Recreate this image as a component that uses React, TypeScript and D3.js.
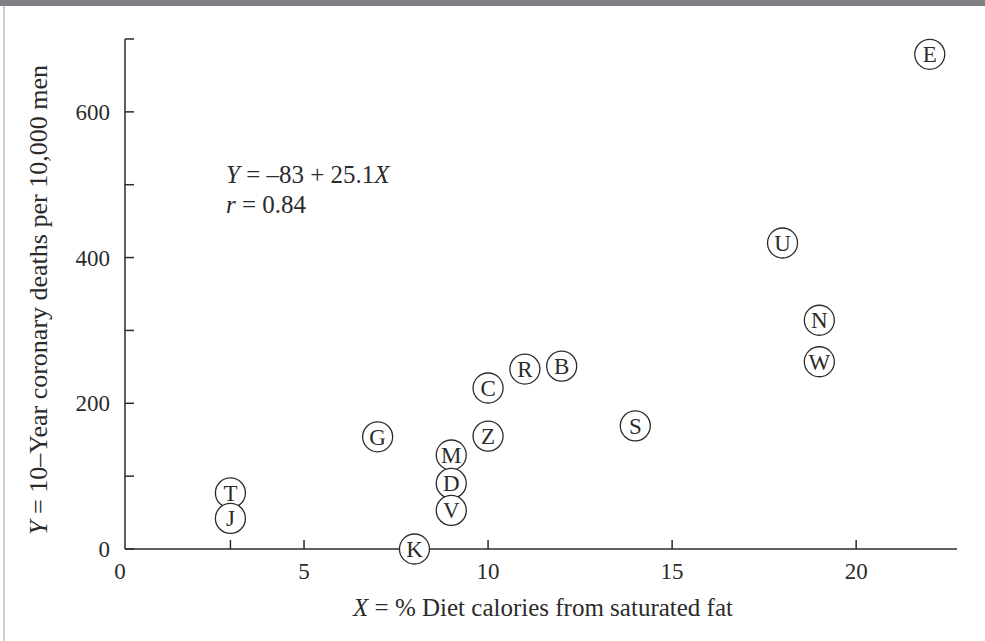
import React from "react";
import * as d3 from "d3";

const letters = ["E", "U", "N", "W", "S", "B", "R", "C", "Z", "G", "M", "D", "V", "T", "J", "K"];
const fatPct = [22, 18, 19, 19, 14, 12, 11, 10, 10, 7, 9, 9, 9, 3, 3, 8];
const deaths = [679, 420, 314, 257, 169, 251, 247, 221, 155, 154, 129, 90, 53, 77, 42, 0];

const xTickValues = [3, 5, 10, 15, 20];
const xTickLabels = ["0", "5", "10", "15", "20"];
const xLabelValues = [0, 5, 10, 15, 20];
const yTickValues = [0, 100, 200, 300, 400, 500, 600, 700];
const yLabelValues = [0, 200, 400, 600];

const W = 985;
const H = 641;
const FONT = "'Liberation Serif', 'Times New Roman', serif";
const INK = "#2b2b2b";

export default function App() {
  const x = d3.scaleLinear().domain([0, 22.74]).range([120, 957]);
  const y = d3.scaleLinear().domain([0, 700]).range([549, 39]);
  const axisX = x(0) + 5;
  const x0 = y(0);

  return (
    <svg
      width={W}
      height={H}
      style={{ position: "absolute", left: 0, top: 0, background: "#fff" }}
      fontFamily={FONT}
    >
      <rect x={0} y={0} width={W} height={6} fill="#7f8083" />
      <line x1={4} y1={6} x2={4} y2={H} stroke="#cfcfcf" strokeWidth={2} />

      {/* axes */}
      <line x1={axisX} y1={y(700)} x2={axisX} y2={x0} stroke={INK} strokeWidth={1.5} />
      <line x1={axisX} y1={x0} x2={x(22.74)} y2={x0} stroke={INK} strokeWidth={1.5} />

      {yTickValues.map((v) => (
        <line key={"yt" + v} x1={axisX} x2={axisX + 9} y1={y(v)} y2={y(v)} stroke={INK} strokeWidth={1.5} />
      ))}
      {yLabelValues.map((v) => (
        <text key={"yl" + v} x={110} y={y(v)} dy="0.35em" textAnchor="end" fontSize={23} fill={INK}>
          {v}
        </text>
      ))}

      {xTickValues.map((v) => (
        <line key={"xt" + v} x1={x(v)} x2={x(v)} y1={x0} y2={x0 - 9} stroke={INK} strokeWidth={1.5} />
      ))}
      {xLabelValues.map((v, i) => (
        <text key={"xl" + v} x={x(v)} y={x0 + 30} textAnchor="middle" fontSize={23} fill={INK}>
          {xTickLabels[i]}
        </text>
      ))}

      <text x={543} y={616} textAnchor="middle" fontSize={25} fill={INK}>
        <tspan fontStyle="italic">X</tspan> = % Diet calories from saturated fat
      </text>

      <text
        transform={`translate(47, ${(y(0) + y(700)) / 2 + 6}) rotate(-90)`}
        textAnchor="middle"
        fontSize={26}
        fill={INK}
      >
        <tspan fontStyle="italic">Y</tspan> = 10–Year coronary deaths per 10,000 men
      </text>

      <text x={226} y={183} fontSize={25} fill={INK}>
        <tspan fontStyle="italic">Y</tspan> = –83 + 25.1<tspan fontStyle="italic">X</tspan>
      </text>
      <text x={226} y={213} fontSize={25} fill={INK}>
        <tspan fontStyle="italic">r</tspan> = 0.84
      </text>

      {letters.map((l, i) => (
        <g key={l} transform={`translate(${x(fatPct[i])}, ${y(deaths[i])})`}>
          <circle r={15} fill="#fff" stroke={INK} strokeWidth={1.3} />
          <text textAnchor="middle" dy="0.35em" fontSize={23} fill={INK}>
            {l}
          </text>
        </g>
      ))}
    </svg>
  );
}
